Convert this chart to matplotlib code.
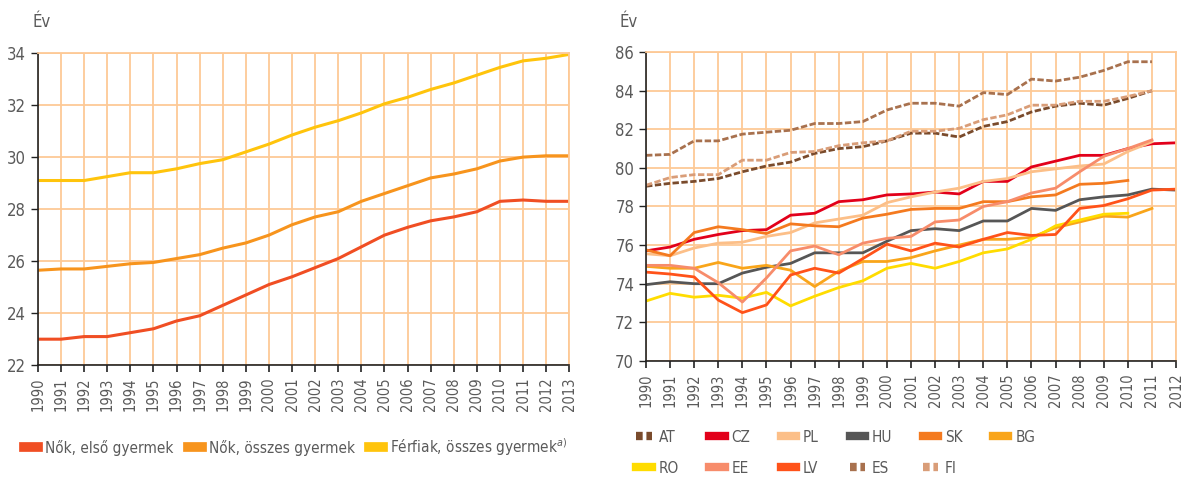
import numpy as np
import matplotlib
matplotlib.use("Agg")
import matplotlib.pyplot as plt
from matplotlib.lines import Line2D

plt.rcParams['font.family'] = ['DejaVu Sans']
plt.rcParams['font.stretch'] = 'condensed'

# --- Left chart: mean age at birth ---
years_l = list(range(1990, 2014))
nok_elso = [23.0, 23.0, 23.1, 23.1, 23.25, 23.4, 23.7, 23.9, 24.3, 24.7, 25.1, 25.4,
            25.75, 26.1, 26.55, 27.0, 27.3, 27.55, 27.7, 27.9, 28.3, 28.35, 28.3, 28.3]
nok_osszes = [25.65, 25.7, 25.7, 25.8, 25.9, 25.95, 26.1, 26.25, 26.5, 26.7, 27.0, 27.4,
              27.7, 27.9, 28.3, 28.6, 28.9, 29.2, 29.35, 29.55, 29.85, 30.0, 30.05, 30.05]
ferfiak = [29.1, 29.1, 29.1, 29.25, 29.4, 29.4, 29.55, 29.75, 29.9, 30.2, 30.5, 30.85,
           31.15, 31.4, 31.7, 32.05, 32.3, 32.6, 32.85, 33.15, 33.45, 33.7, 33.8, 33.95]
left_names = ["Nők, első gyermek", "Nők, összes gyermek", "Férfiak, összes gyermek$^{a)}$"]

# --- Right chart: life expectancy by country ---
years_r = list(range(1990, 2013))
AT = [79.05, 79.2, 79.3, 79.45, 79.8, 80.1, 80.3, 80.75, 81.0, 81.1, 81.4, 81.8,
      81.8, 81.6, 82.15, 82.4, 82.9, 83.2, 83.35, 83.25, 83.6, 84.0]
CZ = [75.7, 75.9, 76.3, 76.55, 76.75, 76.8, 77.55, 77.65, 78.25, 78.35, 78.6, 78.65,
      78.75, 78.65, 79.3, 79.3, 80.05, 80.35, 80.65, 80.65, 81.0, 81.25, 81.3]
PL = [75.55, 75.45, 75.85, 76.1, 76.15, 76.45, 76.65, 77.15, 77.35, 77.55, 78.2, 78.5,
      78.75, 78.95, 79.3, 79.45, 79.8, 79.95, 80.1, 80.2, 80.85, 81.35]
HU = [73.95, 74.1, 74.0, 74.0, 74.55, 74.85, 75.05, 75.6, 75.6, 75.6, 76.2, 76.75,
      76.85, 76.75, 77.25, 77.25, 77.9, 77.8, 78.35, 78.5, 78.6, 78.9, 78.85]
SK = [75.75, 75.45, 76.65, 76.95, 76.8, 76.6, 77.1, 77.0, 76.95, 77.4, 77.6, 77.85,
      77.9, 77.9, 78.25, 78.25, 78.5, 78.6, 79.15, 79.2, 79.35]
BG = [74.9, 74.8, 74.8, 75.1, 74.8, 74.95, 74.7, 73.85, 74.65, 75.15, 75.15, 75.35,
      75.7, 76.0, 76.3, 76.3, 76.4, 76.9, 77.2, 77.5, 77.45, 77.9]
RO = [73.1, 73.5, 73.3, 73.4, 73.25, 73.55, 72.85, 73.35, 73.8, 74.15, 74.8, 75.05,
      74.8, 75.15, 75.6, 75.8, 76.3, 77.0, 77.3, 77.6, 77.65]
EE = [74.95, 74.95, 74.8, 74.05, 73.05, 74.3, 75.7, 75.95, 75.5, 76.1, 76.35, 76.45,
      77.2, 77.3, 78.0, 78.25, 78.7, 78.95, 79.8, 80.6, 81.0, 81.45]
LV = [74.6, 74.5, 74.35, 73.15, 72.5, 72.9, 74.45, 74.8, 74.55, 75.3, 76.05, 75.7,
      76.1, 75.9, 76.3, 76.65, 76.5, 76.55, 77.9, 78.05, 78.4, 78.85, 78.9]
ES = [80.65, 80.7, 81.4, 81.4, 81.75, 81.85, 81.95, 82.3, 82.3, 82.4, 83.0, 83.35,
      83.35, 83.2, 83.9, 83.8, 84.6, 84.5, 84.7, 85.05, 85.5, 85.5]
FI = [79.1, 79.5, 79.65, 79.65, 80.4, 80.4, 80.8, 80.85, 81.15, 81.3, 81.4, 81.9,
      81.9, 82.05, 82.5, 82.75, 83.25, 83.25, 83.45, 83.45, 83.7, 84.0]

countries = ["AT", "CZ", "PL", "HU", "SK", "BG", "RO", "EE", "LV", "ES", "FI"]
series = [AT, CZ, PL, HU, SK, BG, RO, EE, LV, ES, FI]
colors = {"AT": "#7a4b2c", "CZ": "#e2001a", "PL": "#fcbf88", "HU": "#565656",
          "SK": "#f47a1f", "BG": "#f9a51a", "RO": "#ffdc00", "EE": "#f78c6b",
          "LV": "#ff5219", "ES": "#a8714e", "FI": "#d99d78"}
dashed = {"AT", "ES", "FI"}

grid_c = "#fdc996"
text_c = "#5a5a5a"

fig = plt.figure(figsize=(11.86, 4.78), dpi=100)


def style_axes(ax, years, ymin, ymax):
    ax.set_xlim(years[0], years[-1])
    ax.set_ylim(ymin, ymax)
    ax.set_xticks(years)
    ax.set_xticklabels([str(y) for y in years], rotation=90, fontsize=10.5, color=text_c)
    ax.set_yticks(np.arange(ymin, ymax + 1, 2))
    ax.tick_params(axis='y', labelsize=12, colors=text_c, length=5, width=1, color="#222222")
    ax.tick_params(axis='x', length=5, width=1.2, color="#222222", pad=4)
    ax.grid(True, color=grid_c, linewidth=1.3)
    ax.set_axisbelow(True)
    for s in ("top", "right"):
        ax.spines[s].set_color(grid_c)
        ax.spines[s].set_linewidth(1.3)
    for s in ("left", "bottom"):
        ax.spines[s].set_color("#222222")
        ax.spines[s].set_linewidth(1.2)


# left panel
ax1 = fig.add_axes([0.032, 0.236, 0.448, 0.653])
left_colors = ["#f04e23", "#f7941d", "#ffc40c"]
for vals, c in zip([nok_elso, nok_osszes, ferfiak], left_colors):
    ax1.plot(years_l, vals, color=c, linewidth=2.2)
style_axes(ax1, years_l, 22, 34)
fig.text(0.027, 0.955, "Év", fontsize=12, color=text_c, ha="left", va="center")

h1 = [Line2D([], [], color=c, linewidth=7) for c in left_colors]
fig.legend(h1, left_names, loc="center left", bbox_to_anchor=(0.009, 0.065),
           ncol=3, frameon=False, handlelength=0.9, handletextpad=0.45,
           columnspacing=0.95, labelcolor=text_c, prop={"size": 11})

# right panel
ax2 = fig.add_axes([0.5447, 0.245, 0.4469, 0.646])
for name, vals in zip(countries, series):
    ls = (0, (2.3, 0.9)) if name in dashed else "-"
    ax2.plot(years_r[:len(vals)], vals, color=colors[name], linewidth=2.0, linestyle=ls)
style_axes(ax2, years_r, 70, 86)
fig.text(0.522, 0.955, "Év", fontsize=12, color=text_c, ha="left", va="center")

# legend: two rows, filled column-wise
order = ["AT", "RO", "CZ", "EE", "PL", "LV", "HU", "ES", "SK", "FI", "BG"]
h2 = []
for name in order:
    if name in dashed:
        h2.append(Line2D([], [], color=colors[name], linewidth=6, linestyle=(0, (0.8, 0.45))))
    else:
        h2.append(Line2D([], [], color=colors[name], linewidth=6))
fig.legend(h2, order, loc="center left", bbox_to_anchor=(0.525, 0.053),
           ncol=6, frameon=False, handlelength=1.0, handletextpad=0.45,
           columnspacing=2.0, labelcolor=text_c, prop={"size": 11},
           labelspacing=1.05)

fig.savefig("out.png", dpi=100)
